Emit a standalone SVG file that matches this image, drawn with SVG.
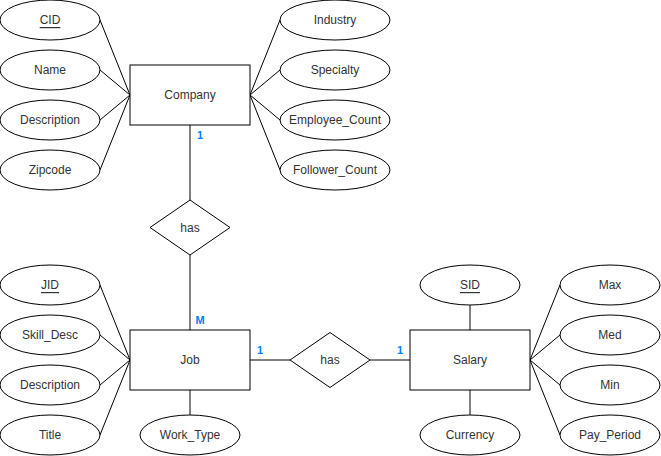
<svg xmlns="http://www.w3.org/2000/svg" width="661" height="456" viewBox="0 0 661 456">
<style>
.s{fill:#fff;stroke:#000;stroke-width:1}
.t{font-family:"Liberation Sans",Arial,sans-serif;font-size:12px;fill:#333;text-anchor:middle;dominant-baseline:central}
.u{text-decoration:underline}
.c{stroke:#000;stroke-width:1;fill:none}
.l{font-family:"Liberation Sans",Arial,sans-serif;font-size:11px;font-weight:bold;fill:#007FFF;text-anchor:middle;dominant-baseline:central}
</style>
<rect width="661" height="456" fill="#fff"/>
<g id="connectors">
<path class="c" d="M100,20L130,95M100,70L130,95M100,120L130,95M100,170L130,95"/>
<path class="c" d="M250,95L280,20M250,95L280,70M250,95L280,120M250,95L280,170"/>
<path class="c" d="M190,125V200M190,255V330"/>
<path class="c" d="M100,285L130,360M100,335L130,360M100,385L130,360M100,435L130,360"/>
<path class="c" d="M190,390V415"/>
<path class="c" d="M250,360H290M370,360H410"/>
<path class="c" d="M470,305V330M470,390V415"/>
<path class="c" d="M530,360L560,285M530,360L560,335M530,360L560,385M530,360L560,435"/>
<text class="l" x="200" y="135">1</text>
<text class="l" x="200" y="320">M</text>
<text class="l" x="260" y="350">1</text>
<text class="l" x="400" y="350">1</text>
</g>
<g id="company"><rect class="s" x="130" y="65" width="120" height="60"/><text class="t" x="190" y="95">Company</text></g>
<g id="cid"><ellipse class="s" cx="50" cy="20" rx="50" ry="20"/><text class="t u" x="50" y="20">CID</text></g>
<g id="name"><ellipse class="s" cx="50" cy="70" rx="50" ry="20"/><text class="t" x="50" y="70">Name</text></g>
<g id="cdesc"><ellipse class="s" cx="50" cy="120" rx="50" ry="20"/><text class="t" x="50" y="120">Description</text></g>
<g id="zipcode"><ellipse class="s" cx="50" cy="170" rx="50" ry="20"/><text class="t" x="50" y="170">Zipcode</text></g>
<g id="industry"><ellipse class="s" cx="335" cy="20" rx="55" ry="20"/><text class="t" x="335" y="20">Industry</text></g>
<g id="specialty"><ellipse class="s" cx="335" cy="70" rx="55" ry="20"/><text class="t" x="335" y="70">Specialty</text></g>
<g id="empcount"><ellipse class="s" cx="335" cy="120" rx="55" ry="20"/><text class="t" x="335" y="120">Employee_Count</text></g>
<g id="folcount"><ellipse class="s" cx="335" cy="170" rx="55" ry="20"/><text class="t" x="335" y="170">Follower_Count</text></g>
<g id="has1"><path class="s" d="M190,200L230,227.5L190,255L150,227.5Z"/><text class="t" x="190" y="227.5">has</text></g>
<g id="job"><rect class="s" x="130" y="330" width="120" height="60"/><text class="t" x="190" y="360">Job</text></g>
<g id="jid"><ellipse class="s" cx="50" cy="285" rx="50" ry="20"/><text class="t u" x="50" y="285">JID</text></g>
<g id="skill"><ellipse class="s" cx="50" cy="335" rx="50" ry="20"/><text class="t" x="50" y="335">Skill_Desc</text></g>
<g id="jdesc"><ellipse class="s" cx="50" cy="385" rx="50" ry="20"/><text class="t" x="50" y="385">Description</text></g>
<g id="title"><ellipse class="s" cx="50" cy="435" rx="50" ry="20"/><text class="t" x="50" y="435">Title</text></g>
<g id="worktype"><ellipse class="s" cx="190" cy="435" rx="50" ry="20"/><text class="t" x="190" y="435">Work_Type</text></g>
<g id="has2"><path class="s" d="M330,332.5L370,360L330,387.5L290,360Z"/><text class="t" x="330" y="360">has</text></g>
<g id="salary"><rect class="s" x="410" y="330" width="120" height="60"/><text class="t" x="470" y="360">Salary</text></g>
<g id="sid"><ellipse class="s" cx="470" cy="285" rx="50" ry="20"/><text class="t u" x="470" y="285">SID</text></g>
<g id="currency"><ellipse class="s" cx="470" cy="435" rx="50" ry="20"/><text class="t" x="470" y="435">Currency</text></g>
<g id="max"><ellipse class="s" cx="610" cy="285" rx="50" ry="20"/><text class="t" x="610" y="285">Max</text></g>
<g id="med"><ellipse class="s" cx="610" cy="335" rx="50" ry="20"/><text class="t" x="610" y="335">Med</text></g>
<g id="min"><ellipse class="s" cx="610" cy="385" rx="50" ry="20"/><text class="t" x="610" y="385">Min</text></g>
<g id="payperiod"><ellipse class="s" cx="610" cy="435" rx="50" ry="20"/><text class="t" x="610" y="435">Pay_Period</text></g>
</svg>
